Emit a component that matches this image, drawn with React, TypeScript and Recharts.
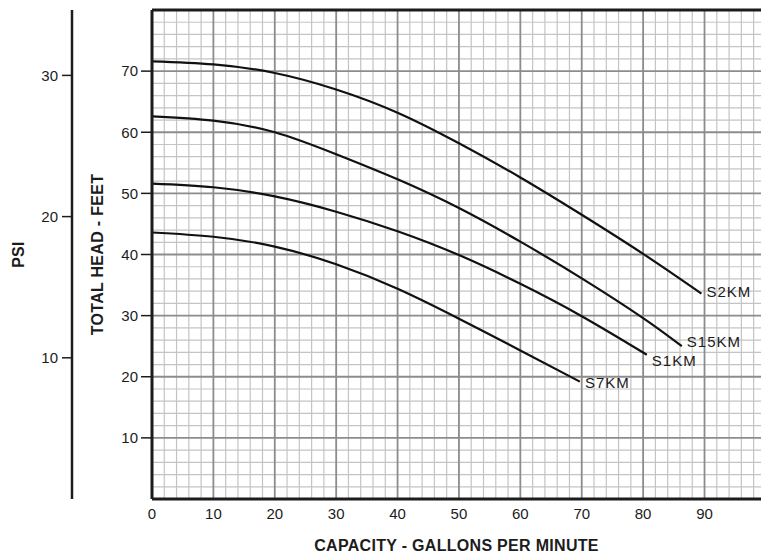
import React from 'react';
import { LineChart, Line, XAxis, YAxis, ReferenceLine, LabelList, Label } from 'recharts';

// pump curves (gpm -> total head in feet)
const s2km = [
  { gpm: 0, head: 71.6 }, { gpm: 10, head: 71.1 }, { gpm: 20, head: 69.7 }, { gpm: 30, head: 67.0 },
  { gpm: 40, head: 63.2 }, { gpm: 50, head: 58.2 }, { gpm: 60, head: 52.6 }, { gpm: 70, head: 46.5 },
  { gpm: 80, head: 40.1 }, { gpm: 89.5, head: 33.6 },
];
const s15km = [
  { gpm: 0, head: 62.6 }, { gpm: 10, head: 61.9 }, { gpm: 20, head: 60.0 }, { gpm: 30, head: 56.4 },
  { gpm: 40, head: 52.3 }, { gpm: 50, head: 47.6 }, { gpm: 60, head: 42.1 }, { gpm: 70, head: 36.1 },
  { gpm: 80, head: 29.6 }, { gpm: 86.3, head: 25.0 },
];
const s1km = [
  { gpm: 0, head: 51.6 }, { gpm: 10, head: 51.0 }, { gpm: 20, head: 49.5 }, { gpm: 30, head: 47.0 },
  { gpm: 40, head: 43.8 }, { gpm: 50, head: 39.9 }, { gpm: 60, head: 35.2 }, { gpm: 70, head: 29.9 },
  { gpm: 80.6, head: 23.6 },
];
const s7km = [
  { gpm: 0, head: 43.6 }, { gpm: 10, head: 42.9 }, { gpm: 20, head: 41.3 }, { gpm: 30, head: 38.4 },
  { gpm: 40, head: 34.4 }, { gpm: 50, head: 29.5 }, { gpm: 60, head: 24.3 }, { gpm: 69.7, head: 19.2 },
];

// label nudge (px) so the end labels sit like on the printed sheet
const curves = [
  { name: 'S2KM', data: s2km, dy: -1 },
  { name: 'S15KM', data: s15km, dy: -3 },
  { name: 'S1KM', data: s1km, dy: 7 },
  { name: 'S7KM', data: s7km, dy: 2 },
];

const xTicks = [0, 10, 20, 30, 40, 50, 60, 70, 80, 90];
const feetTicks = [10, 20, 30, 40, 50, 60, 70];
const psiTicks = [10, 20, 30];
const FEET_PER_PSI = 2.31;
const X_MAX = 99.2;
const FEET_MAX = 80;

// graph paper: fine lines every 2, heavy every 10
const minorX: number[] = [];
for (let v = 2; v < X_MAX; v += 2) if (v % 10 !== 0) minorX.push(v);
const majorX: number[] = [];
for (let v = 10; v < X_MAX; v += 10) majorX.push(v);
const minorY: number[] = [];
for (let v = 2; v < FEET_MAX; v += 2) if (v % 10 !== 0) minorY.push(v);
const majorY: number[] = [];
for (let v = 10; v < FEET_MAX; v += 10) majorY.push(v);

const FONT = '"Liberation Sans", Arial, Helvetica, sans-serif';
const INK = '#1c1c1c';
const tickStyle = { fill: INK, fontSize: 15, fontFamily: FONT };
const titleStyle = { fill: INK, fontSize: 16, fontWeight: 'bold', fontFamily: FONT, letterSpacing: 0.3 };

const endLabel = (name: string, lastIndex: number, dy: number) => (props: any) => {
  if (props.index !== lastIndex) return null;
  return (
    <text
      x={props.x + 5}
      y={props.y + dy}
      dominantBaseline="middle"
      fontSize={15}
      letterSpacing={1}
      fill={INK}
      fontFamily={FONT}
    >
      {name}
    </text>
  );
};

export default function App() {
  return (
    <div style={{ position: 'absolute', left: 0, top: 0, width: 761, height: 553, background: '#fff', overflow: 'hidden' }}>
      <LineChart width={761} height={553} margin={{ top: 10, right: 0, bottom: 0, left: 0 }}>
        <XAxis
          type="number"
          dataKey="gpm"
          domain={[0, X_MAX]}
          allowDataOverflow
          ticks={xTicks}
          tickLine={false}
          tickSize={9}
          tickMargin={0}
          height={54}
          axisLine={{ stroke: INK, strokeWidth: 3 }}
          tick={tickStyle}
        >
          <Label value="CAPACITY - GALLONS PER MINUTE" position="insideBottom" offset={2} style={titleStyle} />
        </XAxis>
        <YAxis
          yAxisId="feet"
          type="number"
          domain={[0, FEET_MAX]}
          allowDataOverflow
          ticks={feetTicks}
          width={80}
          tickSize={11}
          tickMargin={3}
          axisLine={{ stroke: INK, strokeWidth: 3 }}
          tickLine={{ stroke: INK, strokeWidth: 1.5 }}
          tick={tickStyle}
        >
          <Label value="TOTAL HEAD - FEET" angle={-90} position="insideLeft" offset={25} style={{ ...titleStyle, textAnchor: 'middle' }} />
        </YAxis>
        <YAxis
          yAxisId="psi"
          type="number"
          domain={[0, FEET_MAX / FEET_PER_PSI]}
          allowDataOverflow
          ticks={psiTicks}
          width={72}
          tickSize={10}
          tickMargin={4}
          axisLine={{ stroke: INK, strokeWidth: 2.5 }}
          tickLine={{ stroke: INK, strokeWidth: 1.5 }}
          tick={tickStyle}
        >
          <Label value="PSI" angle={-90} position="insideLeft" offset={18} style={{ ...titleStyle, textAnchor: 'middle' }} />
        </YAxis>

        {minorX.map((v) => (
          <ReferenceLine key={`mx${v}`} x={v} yAxisId="feet" stroke="#c4c4c4" strokeWidth={1.2} />
        ))}
        {minorY.map((v) => (
          <ReferenceLine key={`my${v}`} y={v} yAxisId="feet" stroke="#c4c4c4" strokeWidth={1.2} />
        ))}
        {majorX.map((v) => (
          <ReferenceLine key={`Mx${v}`} x={v} yAxisId="feet" stroke="#8c8c8c" strokeWidth={1.8} />
        ))}
        {majorY.map((v) => (
          <ReferenceLine key={`My${v}`} y={v} yAxisId="feet" stroke="#8c8c8c" strokeWidth={1.8} />
        ))}
        <ReferenceLine y={FEET_MAX} yAxisId="feet" stroke={INK} strokeWidth={3} />

        {curves.map((c) => (
          <Line
            key={c.name}
            yAxisId="feet"
            data={c.data}
            dataKey="head"
            type="natural"
            stroke="#111"
            strokeWidth={2.2}
            dot={false}
            isAnimationActive={false}
          >
            <LabelList dataKey="head" content={endLabel(c.name, c.data.length - 1, c.dy)} />
          </Line>
        ))}
      </LineChart>
    </div>
  );
}
